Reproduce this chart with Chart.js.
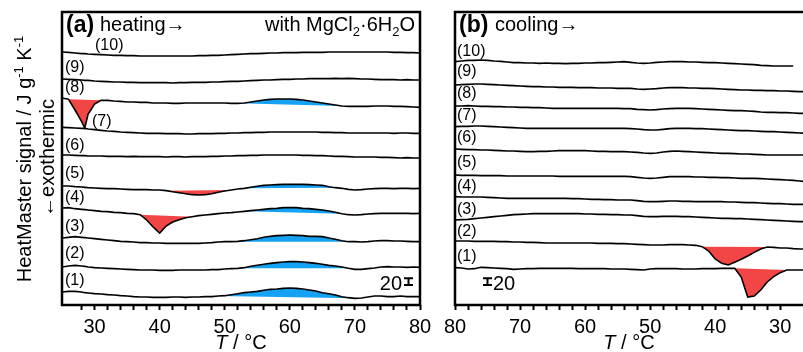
<!DOCTYPE html>
<html>
<head>
<meta charset="utf-8">
<script src="https://cdn.jsdelivr.net/npm/chart.js@4.4.0/dist/chart.umd.min.js"></script>
<style>
  html, body { margin: 0; padding: 0; background: #fff; }
  #wrap { position: relative; width: 803px; height: 352px; overflow: hidden; }
  canvas { position: absolute; top: 0; }
  #ca { left: 0; }
  #cb { left: 430px; }
</style>
</head>
<body>
<div id="wrap">
  <canvas id="ca" width="440" height="352"></canvas>
  <canvas id="cb" width="373" height="352"></canvas>
</div>
<script>
// ---- data (signal units, 20 units = scale bar) ----
// heating run, temperatures in degC
const tA = [25, 26, 27, 28, 28.5, 29, 30, 31, 32, 33, 34, 35, 36, 37, 38, 39, 40, 41, 42, 43, 44, 45, 46, 47, 48, 49, 50,
  51, 52, 53, 54, 55, 56, 57, 58, 59, 60, 61, 62, 63, 64, 65, 66, 67, 68, 69, 70, 71, 72, 73, 74, 75, 76, 77, 78, 79, 80];
// vertical offset of each trace (1) .. (10)
const heatOffset = [39, 114, 201, 291, 357, 450, 533, 620, 678, 759];
const heat1 = [0, 2, 2, 0, -2, -3, -5, -6, -8, -9, -11, -12, -14, -15, -15, -16, -16, -16, -15, -15, -16, -15, -15, -14, -14, -12, -11, -8, -5, -2, 0, 2, 5, 8, 9, 11, 12, 11, 9, 6, 3, -2, -5, -9, -14, -17, -19, -18, -15, -12, -12, -14, -14, -12, -14, -14, -14];
const heat2 = [0, 3, 5, 3, 2, 0, -2, -3, -4, -5, -6, -7, -8, -9, -9, -9, -10, -10, -10, -9, -9, -9, -9, -9, -8, -8, -6, -5, -4, -2, 2, 5, 8, 11, 13, 15, 16, 16, 15, 13, 11, 8, 5, 3, 0, -4, -7, -7, -5, -3, 0, 1, 0, 0, -1, 0, -1];
const heat3 = [0, 2, 4, 2, 1, 0, -2, -4, -6, -8, -10, -11, -12, -14, -14, -15, -15, -16, -16, -16, -16, -16, -16, -15, -14, -12, -11, -11, -10, -8, -5, -2, 2, 5, 7, 8, 9, 8, 7, 5, 5, 4, 0, -4, -8, -11, -11, -12, -11, -9, -8, -8, -9, -9, -10, -11, -11];
const heat4 = [0, 1, -2, -4, -5, -6, -8, -10, -11, -13, -14, -16, -17, -20, -36, -57, -75, -54, -42, -35, -29, -26, -23, -21, -19, -17, -15, -14, -12, -10, -8, -6, -4, -2, -1, 1, 1, 1, -1, -2, -4, -6, -9, -13, -17, -20, -21, -20, -18, -17, -16, -16, -16, -16, -16, -17, -16];
const heat5 = [0, 0, -2, -3, -4, -5, -6, -7, -8, -8, -9, -10, -11, -11, -11, -12, -12, -14, -17, -20, -23, -26, -27, -26, -23, -19, -15, -12, -9, -7, -4, -1, 2, 3, 4, 5, 5, 5, 5, 4, 3, 2, -2, -5, -7, -10, -12, -11, -9, -8, -7, -7, -8, -7, -7, -8, -7];
const heat6 = [0, 0, -1, -2, -2, -3, -3, -3, -4, -4, -4, -5, -4, -5, -5, -5, -5, -6, -5, -5, -6, -5, -5, -5, -4, -4, -3, -3, -2, -2, -1, -1, 0, 0, 0, 0, 0, 0, -1, -1, -2, -2, -3, -4, -4, -5, -6, -6, -6, -6, -7, -7, -8, -9, -8, -9, -9];
const heat7 = [0, -1, -2, -3, -3, -5, -7, -9, -11, -12, -14, -15, -16, -17, -18, -18, -18, -19, -19, -19, -20, -20, -19, -19, -19, -18, -18, -17, -17, -16, -16, -15, -15, -14, -14, -14, -14, -14, -14, -14, -14, -15, -15, -16, -16, -17, -17, -17, -17, -17, -17, -17, -18, -17, -17, -18, -18];
const heat8 = [1, -3, -35, -69, -89, -48, -17, -6, -6, -8, -9, -11, -11, -12, -12, -14, -14, -14, -15, -15, -14, -14, -14, -14, -14, -14, -14, -15, -15, -14, -11, -8, -5, -3, -2, -2, -2, -3, -5, -8, -11, -14, -17, -20, -23, -24, -24, -24, -24, -23, -23, -23, -24, -24, -25, -26, -27];
const heat9 = [0, -1, -2, -3, -4, -4, -6, -7, -8, -9, -9, -10, -10, -11, -11, -11, -11, -11, -12, -11, -11, -10, -10, -10, -9, -9, -8, -7, -7, -6, -5, -4, -3, -3, -2, -1, -1, 0, 0, 1, 1, 1, 1, 2, 1, 2, 1, 0, 0, -1, -2, -2, -2, -3, -2, -3, -3];
const heat10 = [0, -1, -3, -5, -5, -6, -7, -8, -9, -10, -10, -11, -11, -12, -12, -12, -12, -12, -12, -12, -12, -12, -11, -11, -10, -10, -9, -8, -7, -6, -5, -5, -4, -3, -3, -2, -2, -2, -1, -1, -1, -1, 0, 0, 0, 0, 0, 0, 0, 0, 0, 0, -1, -1, -2, -2, -3];
// [trace, from degC, to degC]
const heatExoPeaks = [[8, 26, 31], [5, 41, 51], [4, 37, 45]];
const heatEndoPeaks = [[8, 52, 68], [5, 53, 67], [4, 53, 68], [3, 51, 69], [2, 52, 69], [1, 49, 70]];

// cooling run, read from 80 degC downwards
const tB = [80, 79, 78, 77, 76, 75, 74, 73, 72, 71, 70, 69, 68, 67, 66, 65, 64, 63, 62, 61, 60, 59, 58, 57, 56, 55, 54,
  53, 52, 51, 50, 49, 48, 47, 46, 45, 44, 43, 42, 41, 40, 39, 38, 37, 36, 35, 34, 33, 32, 31, 30, 29, 28, 27, 26];
const coolOffset = [111, 191, 255, 324, 390, 468, 534, 597, 660, 729];
const cool1 = [1, 0, -3, -2, 2, 1, 0, -1, -2, -4, -3, -2, -2, -1, -1, -1, -1, -1, -1, -2, -2, -2, -2, -2, -3, -3, -3, -4, -5, -6, -3, -2, -2, -2, -2, -3, -3, -3, -2, -2, -2, -1, -1, -1, -27, -87, -84, -66, -42, -26, -14, -6, -6, -6, -6];
const cool2 = [1, 1, 1, 0, 0, 0, 0, -1, -1, -2, -2, -3, -3, -4, -5, -5, -5, -5, -5, -5, -5, -5, -6, -6, -6, -7, -7, -8, -9, -10, -11, -11, -11, -10, -10, -10, -11, -12, -16, -29, -53, -66, -71, -63, -54, -44, -33, -23, -17, -18, -20, -20, -22, -23, -23];
const cool3 = [0, 1, 2, 4, 6, 8, 10, 12, 14, 16, 17, 18, 19, 19, 19, 19, 19, 19, 19, 19, 18, 18, 17, 17, 16, 16, 15, 15, 13, 11, 10, 10, 11, 11, 11, 10, 10, 9, 8, 7, 6, 5, 5, 4, 4, 3, 2, 1, 0, -1, -2, -3, -4, -5, -5];
const cool4 = [1, 0, 0, 0, 0, -1, -2, -3, -4, -4, -4, -4, -4, -4, -4, -4, -4, -4, -5, -5, -6, -7, -7, -8, -8, -9, -9, -9, -11, -13, -14, -14, -13, -12, -12, -13, -13, -14, -14, -14, -14, -14, -15, -15, -16, -17, -17, -18, -19, -20, -20, -21, -22, -22, -22];
const cool5 = [0, -1, -1, -1, -2, -2, -2, -2, -3, -3, -3, -3, -3, -3, -3, -3, -4, -4, -4, -4, -4, -4, -4, -4, -4, -4, -4, -5, -7, -9, -10, -9, -7, -5, -5, -5, -5, -6, -6, -7, -7, -8, -8, -9, -10, -10, -10, -11, -12, -13, -14, -15, -16, -18, -20];
const cool6 = [0, -1, -2, -2, -3, -3, -4, -5, -6, -6, -7, -8, -8, -7, -7, -6, -5, -5, -5, -5, -5, -6, -7, -7, -8, -8, -8, -9, -10, -12, -13, -12, -9, -7, -6, -7, -8, -9, -10, -11, -12, -13, -13, -14, -15, -15, -16, -17, -18, -18, -18, -18, -18, -18, -18];
const cool7 = [1, 2, 2, 3, 3, 2, 1, 0, -1, -2, -3, -4, -4, -4, -4, -4, -4, -4, -4, -4, -4, -4, -4, -4, -4, -4, -4, -5, -6, -8, -9, -9, -7, -5, -4, -4, -4, -5, -5, -6, -7, -8, -9, -10, -11, -11, -12, -13, -14, -14, -15, -16, -17, -18, -19];
const cool8 = [0, 0, 1, 0, -1, -1, -2, -2, -3, -3, -4, -4, -5, -5, -6, -7, -7, -7, -7, -7, -7, -7, -7, -7, -7, -7, -8, -8, -10, -11, -12, -11, -9, -8, -7, -7, -7, -8, -9, -10, -11, -12, -13, -14, -14, -15, -16, -18, -19, -19, -20, -20, -21, -22, -22];
const cool9 = [0, 1, 2, 3, 3, 2, 1, 0, -1, -2, -3, -4, -5, -5, -6, -6, -7, -7, -7, -8, -8, -8, -9, -9, -9, -10, -10, -10, -12, -13, -12, -11, -9, -8, -8, -8, -9, -9, -10, -10, -11, -12, -13, -14, -15, -15, -16, -16, -17, -17, -18, -18, -19, -20, -20];
const cool10 = [1, 3, 5, 5, 6, 5, 3, 2, 0, -2, -2, -3, -3, -4, -3, -4, -4, -5, -4, -4, -3, -3, -2, -2, -1, 0, 1, -1, -3, -4, -3, -1, 0, 1, 1, 1, 0, 0, -1, -2, -2, -3, -4, -5, -6, -7, -8, -10, -11, -12, -12, -12, -12, null, null];
const coolExoPeaks = [[2, 42, 32], [1, 37, 29]];

const traceNames = ['(1)', '(2)', '(3)', '(4)', '(5)', '(6)', '(7)', '(8)', '(9)', '(10)'];
const scaleBarValue = 20;

// ---- look ----
const FONT = "'Liberation Sans', Arial, sans-serif";
const RED = '#f24545';
const BLUE = '#16a2f2';
Chart.defaults.font.family = FONT;
Chart.defaults.color = '#000';

// build line datasets plus filled peak areas
function buildDatasets(temps, offsets, traces, exo, endo) {
  const sets = [];
  const lines = traces.map((dev, i) => temps
    .map((t, k) => ({ x: t, y: dev[k] === null ? null : offsets[i] + dev[k] }))
    .sort((a, b) => a.x - b.x));

  const addArea = ([trace, from, to], color) => {
    const lo = Math.min(from, to), hi = Math.max(from, to);
    const pts = lines[trace - 1].filter(p => p.x >= lo && p.x <= hi);
    sets.push({ data: [pts[0], pts[pts.length - 1]], borderColor: 'rgba(0,0,0,0)', borderWidth: 0,
      pointRadius: 0, fill: false, order: 2 });
    const target = sets.length - 1;
    sets.push({ data: pts, borderColor: 'rgba(0,0,0,0)', borderWidth: 0, pointRadius: 0,
      backgroundColor: color, fill: { target, above: color, below: color }, order: 1 });
  };
  exo.forEach(p => addArea(p, RED));
  endo.forEach(p => addArea(p, BLUE));

  lines.forEach(pts => sets.push({ data: pts, borderColor: '#000', borderWidth: 1.6,
    pointRadius: 0, fill: false, order: 0 }));
  return sets;
}

function xScale(min, max, reverse) {
  return {
    type: 'linear', min, max, reverse,
    afterBuildTicks: s => { s.ticks = s.ticks.filter(t => t.value % 2 === 0); },
    afterFit: s => { s.height = 47; s.paddingLeft = 0; s.paddingRight = 0; },
    ticks: { stepSize: 2, autoSkip: false, maxRotation: 0, padding: 5, color: '#000', font: { size: 20 },
      callback: v => (v % 10 === 0 ? String(v) : '') },
    grid: { display: true, drawOnChartArea: false, drawTicks: true, tickLength: 5, tickWidth: 2, tickColor: '#000' },
    border: { display: false }
  };
}

// text helpers
function runsWidth(ctx, parts) {
  let w = 0;
  parts.forEach(p => { ctx.font = p.f; w += ctx.measureText(p.t).width; });
  return w;
}
function drawRuns(ctx, x, y, parts) {
  parts.forEach(p => {
    ctx.font = p.f;
    ctx.fillText(p.t, x, y + (p.dy || 0));
    x += ctx.measureText(p.t).width;
  });
}
const f = (size, style) => (style ? style + ' ' : '') + size + 'px ' + FONT;

function drawFrame(chart, open) {
  const { ctx, chartArea: a } = chart;
  ctx.save();
  ctx.strokeStyle = '#000';
  ctx.lineWidth = 2.5;
  ctx.beginPath();
  if (open) {
    ctx.moveTo(chart.width + 2, a.top);
    ctx.lineTo(a.left, a.top);
    ctx.lineTo(a.left, a.bottom);
    ctx.lineTo(chart.width + 2, a.bottom);
  } else {
    ctx.rect(a.left, a.top, a.right - a.left, a.bottom - a.top);
  }
  ctx.stroke();
  ctx.restore();
}

function drawScaleBar(chart, xc, yBottom) {
  const { ctx } = chart;
  const y = chart.scales.y;
  const h = Math.abs(y.getPixelForValue(0) - y.getPixelForValue(scaleBarValue));
  ctx.save();
  ctx.strokeStyle = '#000';
  ctx.lineWidth = 2;
  ctx.beginPath();
  ctx.moveTo(xc, yBottom); ctx.lineTo(xc, yBottom - h);
  ctx.moveTo(xc - 4.5, yBottom); ctx.lineTo(xc + 4.5, yBottom);
  ctx.moveTo(xc - 4.5, yBottom - h); ctx.lineTo(xc + 4.5, yBottom - h);
  ctx.stroke();
  ctx.restore();
}

function drawXTitle(ctx, cx) {
  const parts = [{ t: 'T', f: f(20, 'italic') }, { t: ' / \u00B0C', f: f(20) }];
  drawRuns(ctx, cx - runsWidth(ctx, parts) / 2, 349, parts);
}

const annotA = {
  id: 'annotA',
  afterDraw(chart) {
    drawFrame(chart, false);
    const ctx = chart.ctx;
    ctx.save();
    ctx.fillStyle = '#000';
    ctx.textAlign = 'left';
    ctx.textBaseline = 'alphabetic';
    drawRuns(ctx, 66, 32, [{ t: '(a)', f: f(23, 'bold') }]);
    drawRuns(ctx, 100, 31, [{ t: 'heating\u2192', f: f(20) }]);
    const salt = [
      { t: 'with MgCl', f: f(20) }, { t: '2', f: f(13), dy: 5 },
      { t: '\u00B76H', f: f(20) }, { t: '2', f: f(13), dy: 5 }, { t: 'O', f: f(20) }
    ];
    drawRuns(ctx, 415 - runsWidth(ctx, salt), 31, salt);

    // y axis title, two rotated lines
    const l1 = [
      { t: 'HeatMaster signal / J g', f: f(20) }, { t: '-1', f: f(13), dy: -8 },
      { t: ' K', f: f(20) }, { t: '-1', f: f(13), dy: -8 }
    ];
    const l2 = [{ t: '\u2190exothermic', f: f(20) }];
    [[l1, 31, 159], [l2, 54, 158]].forEach(([parts, bx, cy]) => {
      ctx.save();
      ctx.translate(bx, cy);
      ctx.rotate(-Math.PI / 2);
      drawRuns(ctx, -runsWidth(ctx, parts) / 2, 0, parts);
      ctx.restore();
    });

    // trace labels
    ctx.font = f(16);
    ctx.textBaseline = 'middle';
    const pos = [[65, 281], [65, 254], [65, 227], [65, 198], [65, 174], [65, 146], [92, 122], [65, 88], [65, 68], [95, 46]];
    traceNames.forEach((n, i) => ctx.fillText(n, pos[i][0], pos[i][1]));

    ctx.textBaseline = 'alphabetic';
    ctx.textAlign = 'right';
    ctx.font = f(20);
    ctx.fillText(String(scaleBarValue), 402, 290);
    ctx.textAlign = 'left';
    drawScaleBar(chart, 408.5, 285);
    drawXTitle(ctx, 241);
    ctx.restore();
  }
};

const annotB = {
  id: 'annotB',
  afterDraw(chart) {
    drawFrame(chart, true);
    const ctx = chart.ctx;
    ctx.save();
    ctx.fillStyle = '#000';
    ctx.textAlign = 'left';
    ctx.textBaseline = 'alphabetic';
    drawRuns(ctx, 29, 32, [{ t: '(b)', f: f(23, 'bold') }]);
    drawRuns(ctx, 65, 31, [{ t: 'cooling\u2192', f: f(20) }]);

    ctx.font = f(16);
    ctx.textBaseline = 'middle';
    const ys = [257, 232, 210, 187, 163, 138, 116, 94, 72, 52];
    traceNames.forEach((n, i) => ctx.fillText(n, 27, ys[i]));

    ctx.textBaseline = 'alphabetic';
    ctx.font = f(20);
    ctx.fillText(String(scaleBarValue), 63, 290);
    drawScaleBar(chart, 57.5, 285);
    drawXTitle(ctx, 199);
    ctx.restore();
  }
};

const common = {
  responsive: false,
  animation: false,
  events: [],
  plugins: { legend: { display: false }, tooltip: { enabled: false } },
  elements: { line: { tension: 0 }, point: { radius: 0 } }
};

new Chart(document.getElementById('ca'), {
  type: 'line',
  data: { datasets: buildDatasets(tA, heatOffset,
    [heat1, heat2, heat3, heat4, heat5, heat6, heat7, heat8, heat9, heat10], heatExoPeaks, heatEndoPeaks) },
  options: Object.assign({}, common, {
    layout: { padding: { left: 62, right: 20, top: 12, bottom: 0 } },
    scales: { x: xScale(25, 80, false), y: { display: false, min: 0, max: 879 } }
  }),
  plugins: [annotA]
});

new Chart(document.getElementById('cb'), {
  type: 'line',
  data: { datasets: buildDatasets(tB, coolOffset,
    [cool1, cool2, cool3, cool4, cool5, cool6, cool7, cool8, cool9, cool10], coolExoPeaks, []) },
  options: Object.assign({}, common, {
    layout: { padding: { left: 25, right: 0, top: 12, bottom: 0 } },
    scales: { x: xScale(26.5, 80, true), y: { display: false, min: 0, max: 879 } }
  }),
  plugins: [annotB]
});
</script>
</body>
</html>
